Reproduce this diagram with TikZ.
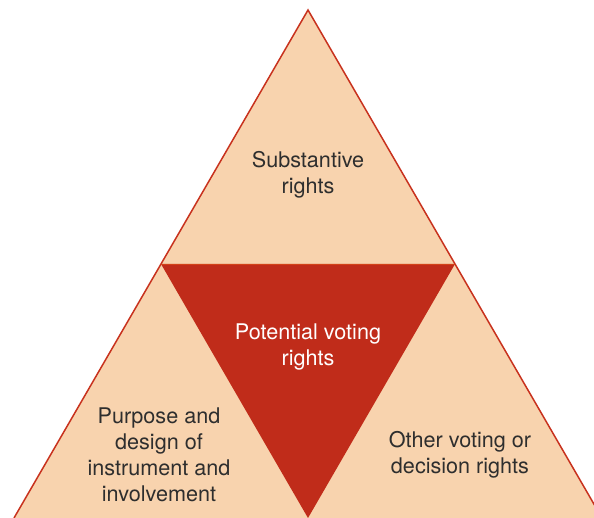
\documentclass[tikz,border=0pt]{standalone}
\usepackage{xcolor}
\usepackage{fontspec}
\setmainfont{TeX Gyre Heros}
\definecolor{peach}{HTML}{F8D3AE}
\definecolor{rustred}{HTML}{C02C1A}
\definecolor{edgered}{HTML}{C8321E}
\definecolor{textgray}{HTML}{2E2E2E}

\begin{document}
\begin{tikzpicture}[x=0.5pt,y=-0.5pt,
  lbl/.style={align=center,text=textgray,font=\fontsize{10.8}{13}\selectfont}]
  \useasboundingbox (0,0) rectangle (594,518);
  \clip (0,0) rectangle (594,518);
  % outer triangle
  \fill[peach] (308,10) -- (14,518) -- (602,518) -- cycle;
  \draw[edgered,line width=0.75pt,line join=miter] (14,518) -- (308,10) -- (602,518);
  % inner triangle
  \fill[rustred] (161,264) -- (455,264) -- (308,518) -- cycle;
  \draw[edgered!80!orange,line width=0.4pt] (161,264) -- (455,264);
  % labels
  \node[lbl] (top) at (308,175) {Substantive\\rights};
  \node[lbl,text=white] (mid) at (308,347) {Potential voting\\rights};
  \node[lbl] (left) at (159,455) {Purpose and\\design of\\instrument and\\involvement};
  \node[lbl] (right) at (460,455) {Other voting or\\decision rights};
\end{tikzpicture}
\end{document}
